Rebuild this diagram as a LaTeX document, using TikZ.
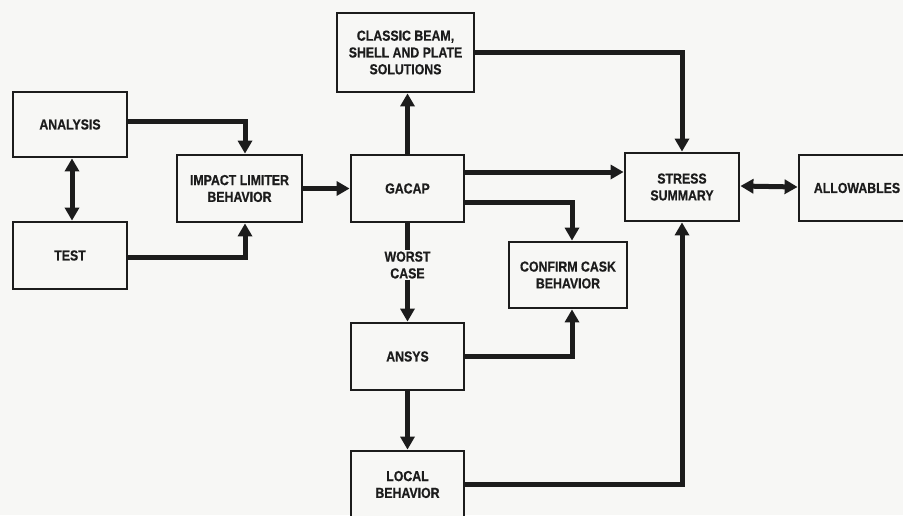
\documentclass[tikz,border=0pt]{standalone}
\usepackage{fontspec}
\setmainfont{Liberation Sans}
\newfontfamily\labfont[FakeStretch=0.85,FakeBold=0.6]{Liberation Sans Bold}
\usetikzlibrary{arrows.meta}
\definecolor{ink}{HTML}{1C1C1C}
\definecolor{paper}{HTML}{F7F7F5}
\begin{document}
\begin{tikzpicture}[x=1pt,y=-1pt,
  box/.style={draw=ink,line width=2.8pt,fill=paper,minimum width=#1,align=center,inner sep=0pt,
    font=\labfont\fontsize{14.5}{16.8}\selectfont,text=ink},
  conn/.style={draw=ink,line width=5pt,-{Triangle[width=14pt,length=13pt]}},
  dconn/.style={draw=ink,line width=5pt,{Triangle[width=14pt,length=13pt]}-{Triangle[width=14pt,length=13pt]}},
  plain/.style={draw=ink,line width=5pt},
  lbl/.style={font=\labfont\fontsize{14.5}{16.8}\selectfont,text=ink,align=center,inner sep=1pt}]
\useasboundingbox (0,0) rectangle (903,515);
\fill[paper] (0,0) rectangle (903,515);
\clip (0,0) rectangle (903,515);
\node[box=114pt,minimum height=65pt] (analysis) at (70,124.5) {ANALYSIS};
\node[box=114pt,minimum height=67pt] (test) at (70,255.5) {TEST};
\node[box=125pt,minimum height=67pt] (impact) at (239.5,188.5) {IMPACT LIMITER\\BEHAVIOR};
\node[box=137pt,minimum height=79pt] (classic) at (405.5,52.5) {CLASSIC BEAM,\\SHELL AND PLATE\\SOLUTIONS};
\node[box=113pt,minimum height=67pt] (gacap) at (407.5,188.5) {GACAP};
\node[box=114pt,minimum height=68pt] (stress) at (682,187) {STRESS\\SUMMARY};
\node[box=116pt,minimum height=66pt] (allow) at (857,188) {ALLOWABLES};
\node[box=118pt,minimum height=66pt] (confirm) at (568,275) {CONFIRM CASK\\BEHAVIOR};
\node[box=113pt,minimum height=67pt] (ansys) at (407.5,356.5) {ANSYS};
\node[box=113pt,minimum height=67pt] (local) at (407.5,484.5) {LOCAL\\BEHAVIOR};
\node[lbl] (worst) at (407.5,265) {WORST\\CASE};

\coordinate (g1) at ([yshift=16.5pt]gacap.east);
\coordinate (g2) at ([yshift=-13.5pt]gacap.east);

\draw[conn] ([yshift=3.5pt]analysis.east) -| ([xshift=5.5pt]impact.north);
\draw[conn] ([yshift=-1.5pt]test.east) -| ([xshift=5.5pt]impact.south);
\draw[dconn] ([xshift=2pt]analysis.south) -- ([xshift=2pt]test.north);
\draw[conn] (impact.east) -- (gacap.west);
\draw[conn] (gacap.north) -- (gacap.north |- classic.south);
\draw[conn] (classic.east) -| (stress.north);
\draw[conn] (g1) -- (stress.west |- g1);
\draw[conn] (g2) -| ([xshift=4pt]confirm.north);
\draw[plain] (gacap.south) -- (worst.north);
\draw[conn] (worst.south) -- (ansys.north);
\draw[conn] ([yshift=0.5pt]ansys.east) -| ([xshift=4pt]confirm.south);
\draw[conn] (ansys.south) -- (local.north);
\draw[conn] (local.east) -| (stress.south);
\draw[dconn] ([yshift=1pt]stress.east) -- ([yshift=1pt]allow.west);
\end{tikzpicture}
\end{document}
